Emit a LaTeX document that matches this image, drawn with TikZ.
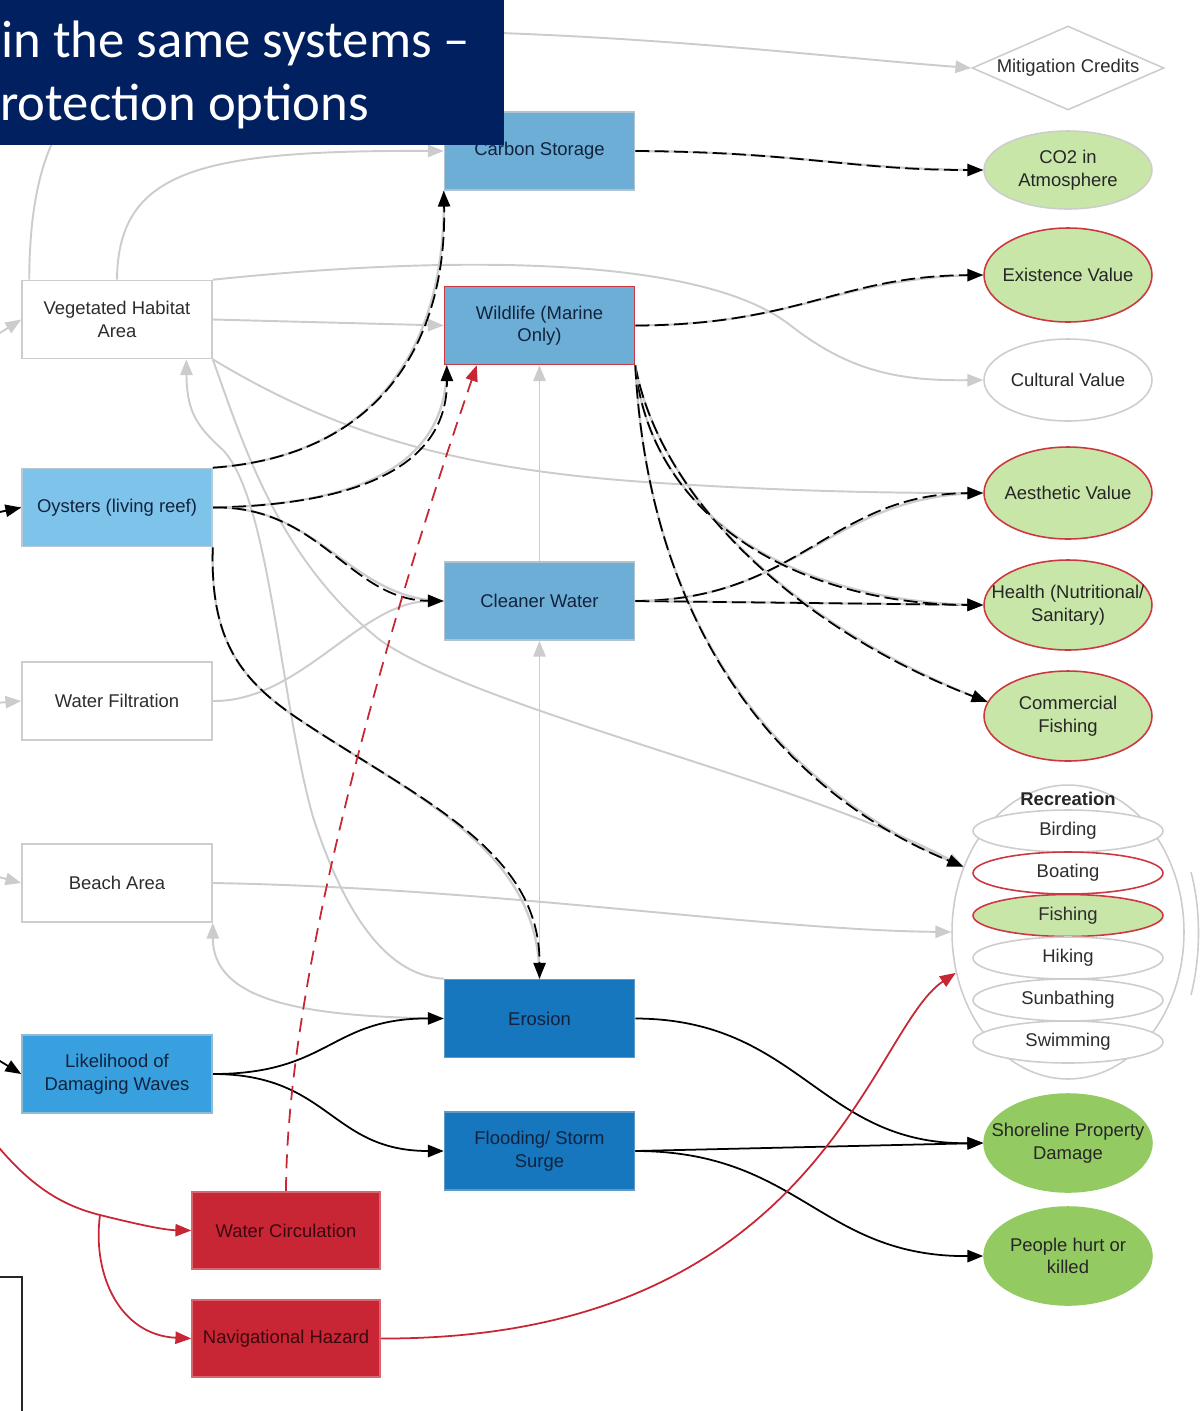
\documentclass[tikz,border=0pt]{standalone}
\usepackage{fontspec}
\setmainfont{Liberation Sans}
\newfontfamily\titlefont{Carlito}
\usetikzlibrary{arrows.meta,shapes.geometric,calc,backgrounds}
\definecolor{lgray}{RGB}{204,204,204}
\definecolor{bgray}{RGB}{205,205,205}
\definecolor{navy}{RGB}{0,32,96}
\definecolor{lblue}{RGB}{108,174,214}
\definecolor{oblue}{RGB}{126,196,234}
\definecolor{mblue}{RGB}{56,160,222}
\definecolor{dblue}{RGB}{22,118,190}
\definecolor{rbox}{RGB}{200,38,52}
\definecolor{gl}{RGB}{200,230,168}
\definecolor{gb}{RGB}{147,203,98}
\definecolor{rborder}{RGB}{205,55,65}
\definecolor{tblue}{RGB}{18,35,62}
\definecolor{tdark}{RGB}{45,45,45}
\definecolor{tred}{RGB}{60,8,14}
\begin{document}
\begin{tikzpicture}[x=0.02cm,y=-0.02cm,
  fnt/.style={font=\fontsize{10.5}{12.8}\selectfont},
  box/.style={rectangle, fnt, minimum width=3.8cm, minimum height=1.56cm, inner sep=2pt, align=center, line width=0.9pt},
  wbox/.style={box, draw=bgray, fill=white, text=tdark},
  lbbox/.style={box, draw=bgray!70!lblue, fill=lblue, text=tblue},
  obbox/.style={box, draw=bgray!70!oblue, fill=oblue, text=tblue},
  mbbox/.style={box, draw=bgray!60!mblue, fill=mblue, text=tblue},
  dbbox/.style={box, draw=bgray!40!dblue, fill=dblue, text=tblue},
  rdbox/.style={box, draw=rbox!70!white, fill=rbox, text=tred, minimum width=3.76cm, minimum height=1.54cm},
  ell/.style={ellipse, minimum width=3.36cm, inner sep=0pt, line width=0.9pt},
  lab/.style={align=center, fnt, text=black!85},
  subell/.style={ellipse, minimum width=3.8cm, minimum height=0.84cm, inner sep=0pt, line width=0.9pt, fnt, text=tdark},
  gedge/.style={draw=lgray, line width=1.1pt, -{Triangle[length=9pt,width=7pt]}},
  dedge/.style={draw=black, line width=1pt, dash pattern=on 8pt off 3pt, preaction={draw=lgray, line width=1.3pt, solid, -}, -{Triangle[length=9pt,width=7pt]}},
  bedge/.style={draw=black, line width=1pt, -{Triangle[length=9pt,width=7pt]}},
  redge/.style={draw=rbox, line width=1pt, -{Triangle[length=9pt,width=7pt]}},
  rdedge/.style={draw=rbox, line width=1pt, dash pattern=on 8pt off 5pt, -{Triangle[length=9pt,width=7pt]}}
]
\useasboundingbox (0,0) rectangle (1201,1411);

% ---------- left column ----------
\node[wbox] (veg) at (117,319.5) {Vegetated Habitat\\Area};
\node[obbox] (oys) at (117,507.5) {Oysters (living reef)};
\node[wbox] (filt) at (117,701) {Water Filtration};
\node[wbox] (beach) at (117,883) {Beach Area};
\node[mbbox] (like) at (117,1074) {Likelihood of\\Damaging Waves};
\node[rdbox] (wc) at (286,1230.5) {Water Circulation};
\node[rdbox] (nav) at (286,1338.5) {Navigational Hazard};

% ---------- middle column ----------
\node[lbbox] (carbon) at (539.5,151) {Carbon Storage};
\node[lbbox, draw=rborder] (wild) at (539.5,325.5) {Wildlife (Marine\\Only)};
\node[lbbox] (clean) at (539.5,601) {Cleaner Water};
\node[dbbox] (erosion) at (539.5,1018.5) {Erosion};
\node[dbbox] (flood) at (539.5,1151) {Flooding/ Storm\\Surge};

% ---------- right column ----------
\node[diamond, draw=bgray, fill=white, line width=0.9pt, inner sep=0pt, shape aspect=2.3, minimum width=3.84cm, minimum height=1.68cm, fnt, text=tdark] (mitig) at (1068,68) {Mitigation Credits};
\node[ell, minimum height=1.56cm, draw=bgray, fill=gl, label={[name=co2t, lab]center:{CO2 in\\Atmosphere}}] (co2) at (1068,170) {};
\node[ell, minimum height=1.88cm, draw=rborder, fill=gl, label={[name=existt, lab]center:{Existence Value}}] (exist) at (1068,275) {};
\node[ell, minimum height=1.64cm, draw=bgray, fill=white, label={[name=cultt, lab]center:{Cultural Value}}] (cult) at (1068,380) {};
\node[ell, minimum height=1.84cm, draw=rborder, fill=gl, label={[name=aestht, lab]center:{Aesthetic Value}}] (aesth) at (1068,493) {};
\node[ell, minimum height=1.80cm, draw=rborder, fill=gl, label={[name=healtht, lab]center:{Health (Nutritional/\\Sanitary)}}] (health) at (1068,605) {};
\node[ell, minimum height=1.80cm, draw=rborder, fill=gl, label={[name=commt, lab]center:{Commercial\\Fishing}}] (comm) at (1068,716) {};
\node[ell, minimum height=1.96cm, draw=gb, fill=gb, label={[name=shoret, lab]center:{Shoreline Property\\Damage}}] (shore) at (1068,1143) {};
\node[ell, minimum height=1.96cm, draw=gb, fill=gb, label={[name=peoplet, lab]center:{People hurt or\\killed}}] (people) at (1068,1256) {};

% recreation group
\node[ellipse, draw=bgray, fill=white, line width=0.9pt, minimum width=4.64cm, minimum height=5.88cm, inner sep=0pt] (rec) at (1068,932) {};
\node[fnt, font=\fontsize{10.5}{12.8}\selectfont\bfseries, text=black!85] (rect) at (1068,799) {Recreation};
\node[subell, draw=bgray, fill=white] (bird) at (1068,831) {Birding};
\node[subell, draw=rborder, fill=white] (boat) at (1068,873) {Boating};
\node[subell, draw=rborder, fill=gl] (fish) at (1068,915.5) {Fishing};
\node[subell, draw=bgray, fill=white] (hike) at (1068,958) {Hiking};
\node[subell, draw=bgray, fill=white] (sun) at (1068,1000) {Sunbathing};
\node[subell, draw=bgray, fill=white] (swim) at (1068,1042) {Swimming};
\draw[lgray, line width=0.9pt] (1191,872) .. controls (1201,910) and (1201,955) .. (1191,995);

% off-picture sources
\coordinate (in1) at (-5,336);
\coordinate (in2) at (-5,513);
\coordinate (in3) at (-5,703);
\coordinate (in4) at (-5,876);
\coordinate (in5) at (-5,1058);
\coordinate (in6) at (-5,1143);
\coordinate (br) at (100,1215);

\begin{scope}[on background layer]
% grey links
\draw[gedge] (in1) -- (veg.west);
\draw[gedge] (in3) -- (filt.west);
\draw[gedge] (in4) -- (beach.west);
\draw[gedge] ($(veg.north west)+(8,0)$) .. controls (30,110) and (90,35) .. (300,30) .. controls (600,28) and (800,55) .. (mitig.west);
\draw[gedge] (veg.north) .. controls (118,170) and (200,150) .. (carbon.west);
\draw[gedge] (veg.north east) .. controls (450,255) and (700,255) .. (790,325) .. controls (850,372) and (900,381) .. (cult.west);
\draw[gedge] (veg.east) -- (wild.west);
\draw[gedge] (veg.south east) .. controls (330,430) and (450,470) .. (660,483) .. controls (800,492) and (900,493) .. (aesth.west);
\draw[gedge] (erosion.north west) .. controls (380,975) and (340,900) .. (313,817) .. controls (280,700) and (270,500) .. (223,450) .. controls (195,425) and (187,410) .. ($(veg.south west)+(165,0)$);
\draw[gedge] (veg.south east) .. controls (245,450) and (280,560) .. (380,640) .. controls (480,710) and (800,780) .. (rec.148);
\draw[gedge] (beach.east) .. controls (500,888) and (760,930) .. (rec.west);
\draw[gedge] (erosion.west) .. controls (300,1017) and (213,1000) .. (beach.south east);
\draw[gedge] (filt.east) .. controls (300,702) and (360,602) .. (clean.west);
\draw[gedge] (clean.north) -- (wild.south);
\draw[gedge] (erosion.north) -- (clean.south);
% dashed black links
\draw[dedge] (in2) -- (oys.west);
\draw[dedge] (carbon.east) .. controls (800,152) and (850,170) .. (co2.west);
\draw[dedge] (wild.east) .. controls (800,325) and (840,276) .. (exist.west);
\draw[dedge] (oys.north east) .. controls (390,455) and (447,330) .. (carbon.south west);
\draw[dedge] (oys.east) .. controls (350,505) and (448,470) .. ($(wild.south west)+(3,0)$);
\draw[dedge] (oys.east) .. controls (320,505) and (350,600) .. (clean.west);
\draw[dedge] (oys.south east) .. controls (210,640) and (240,680) .. (300,720) .. controls (420,800) and (540,850) .. (erosion.north);
\draw[dedge] (clean.east) .. controls (800,600) and (830,494) .. (aesth.west);
\draw[dedge] (clean.east) -- (health.west);
\draw[dedge] (wild.south east) .. controls (650,520) and (800,604) .. (health.west);
\draw[dedge] (wild.south east) .. controls (660,500) and (800,630) .. (comm.170);
\draw[dedge] (wild.south east) .. controls (650,650) and (800,800) .. (rec.148);
% solid black links
\draw[bedge] (in5) -- (like.west);
\draw[bedge] (like.east) .. controls (330,1074) and (330,1018) .. (erosion.west);
\draw[bedge] (like.east) .. controls (330,1074) and (330,1151) .. (flood.west);
\draw[bedge] (erosion.east) .. controls (800,1019) and (820,1145) .. (shore.west);
\draw[bedge] (flood.east) -- (shore.west);
\draw[bedge] (flood.east) .. controls (800,1151) and (820,1257) .. (people.west);
% red links
\draw[rdedge] (wc.north) .. controls (287,950) and (410,560) .. ($(wild.south west)+(33,0)$);
\draw[redge] (in6) .. controls (30,1185) and (60,1205) .. (br) .. controls (140,1225) and (165,1230) .. (wc.west);
\draw[redge] (br) .. controls (92,1275) and (120,1335) .. (nav.west);
\draw[redge] (nav.east) .. controls (820,1340) and (870,1030) .. (rec.200);
\end{scope}

% partial frame bottom left
\draw[black!85, line width=1.2pt] (-10,1277) -- (22,1277) -- (22,1420);

% title banner
\fill[navy] (0,0) rectangle (504,145);
\node[anchor=base west, inner sep=0pt, text=white, font=\titlefont\fontsize{30}{36}\selectfont] (title1) at (1,57) {in the same systems –};
\node[anchor=base west, inner sep=0pt, text=white, font=\titlefont\fontsize{30}{36}\selectfont] (title2) at (0,120) {rotection options};
\end{tikzpicture}
\end{document}
